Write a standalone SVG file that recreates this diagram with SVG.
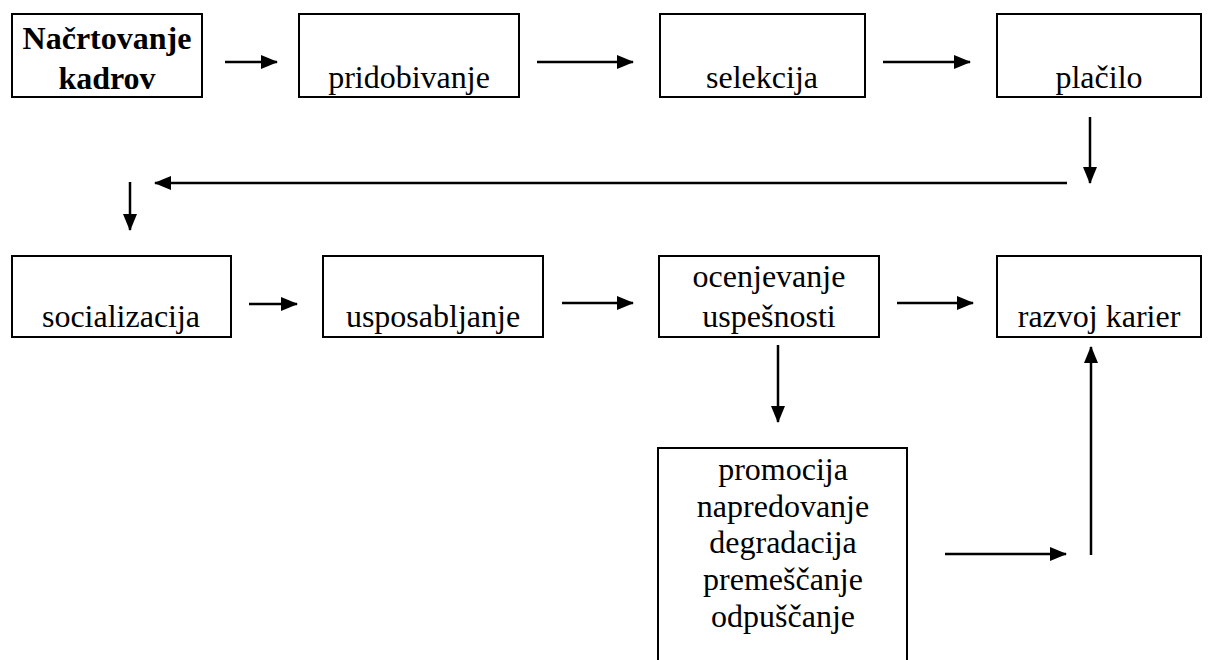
<svg xmlns="http://www.w3.org/2000/svg" width="1215" height="660" viewBox="0 0 1215 660">
<style>
.box{fill:#fff;stroke:#000;stroke-width:2}
text{font-family:'Liberation Serif','Times New Roman','DejaVu Serif',serif;font-size:32px;fill:#000;text-anchor:middle}
.b{font-weight:bold}
.c{stroke:#000;stroke-width:2.5;fill:none}
</style>
<defs>
<marker id="ah" markerUnits="userSpaceOnUse" markerWidth="17" markerHeight="14" refX="16" refY="7" orient="auto">
<path d="M0,0 L17,7 L0,14 Z" fill="#000"/>
</marker>
</defs>
<rect width="1215" height="660" fill="#fff"/>
<g font-family="Liberation Serif, DejaVu Serif, serif">
<g id="n1"><rect class="box" x="12" y="14" width="190" height="83"/><text class="b" x="107" y="49">Načrtovanje</text><text class="b" x="107" y="89">kadrov</text></g>
<g id="n2"><rect class="box" x="299" y="14" width="220" height="83"/><text x="409" y="88">pridobivanje</text></g>
<g id="n3"><rect class="box" x="660" y="14" width="205" height="83"/><text x="762" y="88">selekcija</text></g>
<g id="n4"><rect class="box" x="997" y="14" width="204" height="83"/><text x="1099" y="88">plačilo</text></g>
<g id="n5"><rect class="box" x="12" y="256" width="219" height="81"/><text x="121" y="327">socializacija</text></g>
<g id="n6"><rect class="box" x="323" y="256" width="220" height="81"/><text x="433" y="327">usposabljanje</text></g>
<g id="n7"><rect class="box" x="659" y="256" width="220" height="81"/><text x="769" y="287">ocenjevanje</text><text x="769" y="327">uspešnosti</text></g>
<g id="n8"><rect class="box" x="997" y="256" width="204" height="81"/><text x="1099" y="327">razvoj karier</text></g>
<g id="n9"><rect class="box" x="658" y="448" width="249" height="230"/><text x="783" y="480">promocija</text><text x="783" y="517">napredovanje</text><text x="783" y="553">degradacija</text><text x="783" y="590">premeščanje</text><text x="783" y="627">odpuščanje</text></g>
</g>
<g id="connectors">
<line class="c" x1="225" y1="62" x2="277" y2="62" marker-end="url(#ah)"/>
<line class="c" x1="537" y1="62" x2="633" y2="62" marker-end="url(#ah)"/>
<line class="c" x1="883" y1="62" x2="970" y2="62" marker-end="url(#ah)"/>
<line class="c" x1="1090" y1="117" x2="1090" y2="183" marker-end="url(#ah)"/>
<line class="c" x1="1067" y1="183" x2="155" y2="183" marker-end="url(#ah)"/>
<line class="c" x1="130" y1="182" x2="130" y2="230" marker-end="url(#ah)"/>
<line class="c" x1="249" y1="304" x2="297" y2="304" marker-end="url(#ah)"/>
<line class="c" x1="562" y1="303" x2="633" y2="303" marker-end="url(#ah)"/>
<line class="c" x1="897" y1="303" x2="973" y2="303" marker-end="url(#ah)"/>
<line class="c" x1="778" y1="345" x2="778" y2="422" marker-end="url(#ah)"/>
<line class="c" x1="945" y1="554" x2="1066" y2="554" marker-end="url(#ah)"/>
<line class="c" x1="1091" y1="555" x2="1091" y2="347" marker-end="url(#ah)"/>
</g>
</svg>
